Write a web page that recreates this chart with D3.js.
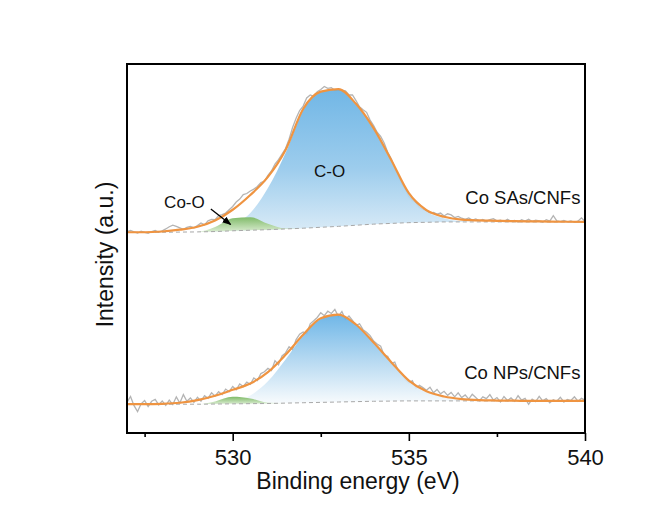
<!DOCTYPE html>
<meta charset="utf-8" />
<style>
  body { margin: 0; background: #fff; }
  text { font-family: "Liberation Sans", Arial, sans-serif; fill: #111; }
  .raw { fill: none; stroke: #b4b4b4; stroke-width: 1.3px; }
  .fit { fill: none; stroke: #ef9441; stroke-width: 2.2px; }
  .base { fill: none; stroke: #a8a8a8; stroke-width: 1px; stroke-dasharray: 4 3; }
</style>
<body>
<script src="https://d3js.org/d3.v7.min.js"></script>
<script>
// binding energy grids (eV)
const rawStart = 527, rawStep = 0.1;   // measured points
const fitStart = 527, fitStep = 0.5;   // fitted curves

// Co SAs/CNFs, measured O 1s (a.u., offset upwards)
const sasRaw = [
  54.6, 54.9, 54.5, 54.2, 54.7, 54.4, 54.1, 54.6, 54.9, 54.4,
  54.8, 55.3, 55.9, 56.3, 56.0, 55.6, 55.2, 55.7, 56.0, 55.6,
  56.2, 56.9, 56.4, 57.5, 57.9, 57.8, 58.9, 59.2, 59.6, 60.5,
  61.4, 62.6, 63.4, 64.6, 64.9, 65.6, 66.1, 66.8, 67.9, 68.2,
  69.8, 71.0, 72.9, 74.1, 75.6, 77.1, 79.6, 82.8, 85.3, 87.4,
  88.6, 90.8, 91.6, 91.2, 92.5, 93.1, 93.9, 93.4, 93.6, 92.8,
  93.0, 92.9, 92.7, 91.6, 91.6, 90.1, 88.4, 87.6, 86.9, 84.8,
  83.3, 81.5, 80.4, 78.6, 76.1, 74.3, 71.9, 69.8, 67.6, 66.0,
  64.1, 63.0, 62.4, 61.1, 60.6, 60.2, 59.6, 59.8, 59.3, 59.6,
  58.8, 59.4, 59.1, 58.4, 58.7, 58.2, 57.9, 58.3, 57.7, 58.0,
  57.5, 57.9, 57.4, 57.8, 58.1, 57.5, 57.7, 57.3, 57.9, 57.4,
  57.6, 57.2, 57.8, 57.4, 57.9, 57.3, 57.7, 57.5, 57.2, 57.8,
  57.4, 58.9, 57.5, 57.3, 57.6, 57.2, 57.5, 57.1, 57.4, 58.3,
  57.3
];
// Co NPs/CNFs, measured O 1s
const npsRaw = [
  8.3, 9.9, 7.4, 5.8, 7.9, 8.8, 7.2, 8.6, 9.1, 7.6,
  8.7, 7.5, 8.9, 7.7, 9.8, 8.1, 10.4, 8.6, 9.5, 8.3,
  9.7, 8.6, 10.1, 9.4, 10.9, 10.0, 11.2, 10.4, 11.9, 11.2,
  12.6, 11.7, 13.3, 12.6, 13.8, 13.2, 14.9, 14.2, 16.1, 16.6,
  17.5, 16.9, 19.6, 18.5, 20.9, 21.7, 23.4, 22.6, 25.3, 26.8,
  27.4, 26.9, 29.6, 30.4, 31.3, 32.6, 31.8, 33.0, 32.4, 33.5,
  31.6, 32.9, 30.8, 31.7, 30.5, 29.2, 29.6, 28.0, 27.3, 26.4,
  24.9, 24.1, 23.5, 21.0, 20.8, 18.9, 19.2, 16.8, 16.0, 14.5,
  13.6, 14.2, 12.1, 12.9, 12.3, 11.6, 12.4, 10.9, 11.8, 10.6,
  11.3, 10.2, 11.0, 9.8, 10.9, 9.6, 10.3, 9.2, 10.5, 9.6,
  8.7, 9.8, 9.3, 10.4, 8.9, 9.6, 8.4, 9.9, 8.8, 9.5,
  8.6, 10.1, 8.9, 9.4, 7.8, 9.2, 8.5, 9.9, 8.7, 9.3,
  8.2, 9.0, 8.6, 9.7, 8.4, 9.1, 8.8, 9.8, 8.6, 9.4,
  8.9
];

// fitted envelopes and backgrounds (absolute), components (net above background)
const sasFit  = [54.4, 54.4, 54.6, 55.1, 55.9, 57.6, 60.5, 64.5, 69.4, 76.7, 87.8, 92.5, 93.2, 89.2, 82.6, 74.0, 65.0, 60.4, 58.6, 57.8, 57.6, 57.5, 57.4, 57.35, 57.3, 57.25, 57.2];
const sasBase = [54.4, 54.4, 54.4, 54.45, 54.5, 54.6, 54.8, 54.95, 55.1, 55.3, 55.5, 55.75, 56.0, 56.3, 56.6, 56.8, 57.0, 57.1, 57.2, 57.2, 57.2, 57.2, 57.2, 57.2, 57.2, 57.2, 57.2];
const sasCO   = [0, 0, 0, 0, 0, 0.2, 1.5, 4.65, 11.3, 20.6, 32.0, 36.65, 37.1, 32.7, 25.9, 17.0, 7.7, 2.9, 1.0, 0.2, 0, 0, 0, 0, 0, 0, 0];
const sasCoO  = [0, 0, 0, 0, 0, 1.2, 3.4, 3.55, 1.6, 0.1, 0, 0, 0, 0, 0, 0, 0, 0, 0, 0, 0, 0, 0, 0, 0, 0, 0];

const npsFit  = [7.8, 7.8, 7.9, 8.2, 8.9, 10.1, 11.7, 13.4, 16.5, 21.2, 26.6, 31.1, 32.1, 29.4, 24.5, 19.2, 14.2, 11.3, 9.9, 9.2, 8.9, 8.8, 8.75, 8.7, 8.7, 8.7, 8.7];
const npsBase = [7.8, 7.8, 7.8, 7.8, 7.8, 7.85, 7.9, 7.95, 8.0, 8.1, 8.2, 8.3, 8.4, 8.5, 8.6, 8.65, 8.7, 8.7, 8.7, 8.7, 8.7, 8.7, 8.7, 8.7, 8.7, 8.7, 8.7];
const npsCO   = [0, 0, 0, 0, 0, 0, 0.5, 2.2, 6.0, 11.8, 18.2, 22.6, 23.6, 20.8, 15.8, 10.5, 5.4, 2.5, 1.1, 0.4, 0.1, 0, 0, 0, 0, 0, 0];
const npsCoO  = [0, 0, 0, 0, 0, 0.7, 1.9, 1.4, 0.2, 0, 0, 0, 0, 0, 0, 0, 0, 0, 0, 0, 0, 0, 0, 0, 0, 0, 0];

const xTicks = [530, 535, 540];
const xMinor = [527.5, 532.5, 537.5];

const W = 665, H = 508;
const margin = { top: 64, right: 80, bottom: 75, left: 127 };
const width = W - margin.left - margin.right,
  height = H - margin.top - margin.bottom;

const x = d3.scaleLinear().domain([527, 540]).range([0, width]);
const y = d3.scaleLinear().domain([0, 100]).range([height, 0]);

const svg = d3.select('body').append('svg').attr('width', W).attr('height', H);
const defs = svg.append('defs');

function grad(id, stops) {
  const g = defs.append('linearGradient').attr('id', id)
    .attr('x1', 0).attr('y1', 0).attr('x2', 0).attr('y2', 1);
  stops.forEach(s => g.append('stop').attr('offset', s[0]).attr('stop-color', s[1]));
}
grad('blueTop', [[0, '#62afe3'], [0.55, '#92c7eb'], [1, '#d6e9f6']]);
grad('blueBot', [[0, '#60afe5'], [0.6, '#bcdcf2'], [1, '#f8fbfd']]);
grad('green', [[0, '#80bb69'], [1, '#dcedd3']]);

defs.append('marker').attr('id', 'head')
  .attr('viewBox', '0 0 10 10').attr('refX', 9).attr('refY', 5)
  .attr('markerWidth', 9).attr('markerHeight', 9).attr('orient', 'auto')
  .attr('markerUnits', 'userSpaceOnUse')
  .append('path').attr('d', 'M0,1 L10,5 L0,9 Z').attr('fill', '#000');

const g = svg.append('g').attr('transform', 'translate(' + margin.left + ',' + margin.top + ')');

const rawE = i => rawStart + i * rawStep;
const fitE = i => fitStart + i * fitStep;

const rawLine = d3.line().x((d, i) => x(rawE(i))).y(d => y(d));
const fitLine = d3.line().x((d, i) => x(fitE(i))).y(d => y(d)).curve(d3.curveMonotoneX);

function spectrum(raw, fit, base, co, coo, blueId) {
  g.append('path').datum(raw).attr('class', 'raw').attr('d', rawLine);

  const area = d3.area().curve(d3.curveMonotoneX)
    .x((d, i) => x(fitE(i)))
    .y0((d, i) => y(base[i]))
    .y1((d, i) => y(base[i] + d));
  g.append('path').datum(co).attr('d', area)
    .attr('fill', 'url(#' + blueId + ')').attr('fill-opacity', 0.9);
  g.append('path').datum(coo).attr('d', area).attr('fill', 'url(#green)');

  g.append('path').datum(base).attr('class', 'base').attr('d', fitLine);
  g.append('path').datum(fit).attr('class', 'fit').attr('d', fitLine);
}

spectrum(sasRaw, sasFit, sasBase, sasCO, sasCoO, 'blueTop');
spectrum(npsRaw, npsFit, npsBase, npsCO, npsCoO, 'blueBot');

// axes
const xAxis = g.append('g').attr('transform', 'translate(0,' + height + ')')
  .call(d3.axisBottom(x).tickValues(xTicks).tickSize(8).tickPadding(8).tickFormat(d3.format('d')));
xAxis.select('.domain').remove();
xAxis.selectAll('line').attr('stroke', '#000').attr('stroke-width', 1.6);
xAxis.selectAll('text').style('font-size', '22px').attr('fill', '#111')
  .style('font-family', '"Liberation Sans", Arial, sans-serif');

const xAxisMinor = g.append('g').attr('transform', 'translate(0,' + height + ')')
  .call(d3.axisBottom(x).tickValues(xMinor).tickSize(4).tickFormat(''));
xAxisMinor.select('.domain').remove();
xAxisMinor.selectAll('line').attr('stroke', '#000').attr('stroke-width', 1.6);

g.append('rect').attr('width', width).attr('height', height)
  .attr('fill', 'none').attr('stroke', '#000').attr('stroke-width', 2);

// axis titles
svg.append('text')
  .attr('x', margin.left + width / 2 + 2).attr('y', 489)
  .attr('text-anchor', 'middle').style('font-size', '23px')
  .text('Binding energy (eV)');
svg.append('text')
  .attr('transform', 'translate(113,' + (margin.top + height / 2 + 6) + ') rotate(-90)')
  .attr('text-anchor', 'middle').style('font-size', '23px')
  .text('Intensity (a.u.)');

// annotations
g.append('text').attr('x', x(532.75)).attr('y', y(69.4))
  .attr('text-anchor', 'middle').style('font-size', '17px').attr('fill', '#333')
  .text('C-O');
g.append('text').attr('x', x(528.63)).attr('y', y(60.9))
  .attr('text-anchor', 'middle').style('font-size', '17px')
  .text('Co-O');
g.append('line')
  .attr('x1', x(529.38)).attr('y1', y(60.7))
  .attr('x2', x(529.94)).attr('y2', y(56.5))
  .attr('stroke', '#000').attr('stroke-width', 1.3)
  .attr('marker-end', 'url(#head)');
g.append('text').attr('x', x(539.87)).attr('y', y(62.0))
  .attr('text-anchor', 'end').style('font-size', '18.5px')
  .text('Co SAs/CNFs');
g.append('text').attr('x', x(539.87)).attr('y', y(14.75))
  .attr('text-anchor', 'end').style('font-size', '18.5px')
  .text('Co NPs/CNFs');
</script>
</body>
